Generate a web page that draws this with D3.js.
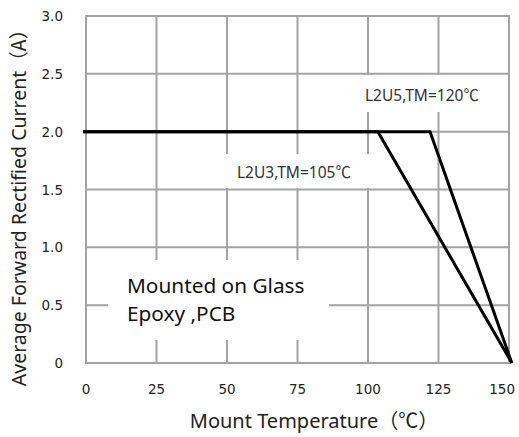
<!DOCTYPE html>
<html>
<head>
<meta charset="utf-8">
<script src="https://cdn.jsdelivr.net/npm/d3@7"></script>
<style>
  body { margin: 0; background: #fff; }
  svg { display: block; }
</style>
</head>
<body>
<div id="container"></div>
<script>
// values
const tempTicks = [0, 25, 50, 75, 100, 125, 150]
const currentTicks = [0, 0.5, 1.0, 1.5, 2.0, 2.5, 3.0]
const l2u3Temp = [-1, 103.5, 151]
const l2u3Current = [2.0, 2.0, 0]
const l2u5Temp = [-1, 122, 151]
const l2u5Current = [2.0, 2.0, 0]

const width = 519
const height = 437
const margin = {top: 16, right: 10, bottom: 74, left: 86}

const svg = d3.select("#container").append("svg")
    .attr("width", width)
    .attr("height", height)

const x = d3.scaleLinear()
    .domain([0, 150])
    .range([margin.left, width - margin.right])

const y = d3.scaleLinear()
    .domain([0, 3])
    .range([height - margin.bottom, margin.top])

const gridColor = "#a3a3a3"
const cjk = "Noto Sans CJK SC"

// grid
svg.append("g")
    .selectAll("line")
    .data(tempTicks)
    .join("line")
    .attr("x1", d => x(d)).attr("x2", d => x(d))
    .attr("y1", y(0)).attr("y2", y(3))
    .attr("stroke", gridColor)
    .attr("stroke-width", 2)

svg.append("g")
    .selectAll("line")
    .data(currentTicks)
    .join("line")
    .attr("x1", x(0) - 1).attr("x2", x(150) + 1)
    .attr("y1", d => y(d)).attr("y2", d => y(d))
    .attr("stroke", gridColor)
    .attr("stroke-width", 2)

// white label boxes cover parts of the grid, like in the original
const boxes = [
  {x0: 108, y0: 260, x1: 329, y1: 340},
  {x0: 200, y0: 154, x1: 372, y1: 188},
  {x0: 360, y0: 75, x1: 497, y1: 112}
]
svg.append("g")
    .selectAll("rect")
    .data(boxes)
    .join("rect")
    .attr("x", d => d.x0).attr("y", d => d.y0)
    .attr("width", d => d.x1 - d.x0).attr("height", d => d.y1 - d.y0)
    .attr("fill", "#fff")

// curves
const line = d3.line()
    .x(d => x(d[0]))
    .y(d => y(d[1]))

const series = [
  d3.zip(l2u3Temp, l2u3Current),
  d3.zip(l2u5Temp, l2u5Current)
]

svg.append("g")
    .selectAll("path")
    .data(series)
    .join("path")
    .attr("d", line)
    .attr("fill", "none")
    .attr("stroke", "#000")
    .attr("stroke-width", 3)

// tick labels
svg.append("g")
    .selectAll("text")
    .data(currentTicks)
    .join("text")
    .attr("x", 63)
    .attr("y", d => y(d) + 5)
    .attr("text-anchor", "end")
    .attr("font-family", "DejaVu Sans")
    .attr("font-size", 13.5)
    .attr("fill", "#222")
    .text(d => d === 0 ? "0" : d.toFixed(1))

svg.append("g")
    .selectAll("text")
    .data(tempTicks)
    .join("text")
    .attr("x", (d, i) => i === tempTicks.length - 1 ? width - 4 : x(d))
    .attr("y", 394)
    .attr("text-anchor", (d, i) => i === tempTicks.length - 1 ? "end" : "middle")
    .attr("font-family", "DejaVu Sans")
    .attr("font-size", 13.5)
    .attr("fill", "#222")
    .text(d => d)

// axis titles
const xTitle = svg.append("text")
    .attr("x", 314)
    .attr("y", 428)
    .attr("text-anchor", "middle")
    .attr("font-family", "Noto Sans")
    .attr("font-size", 20)
    .attr("fill", "#222")
xTitle.append("tspan").text("Mount Temperature")
xTitle.append("tspan").attr("font-family", cjk).text("（℃）")

const yTitle = svg.append("text")
    .attr("transform", `translate(26, 203) rotate(-90)`)
    .attr("text-anchor", "middle")
    .attr("font-family", "Noto Sans")
    .attr("font-size", 19.5)
    .attr("fill", "#222")
yTitle.append("tspan").text("Average Forward Rectified Current")
yTitle.append("tspan").attr("font-family", cjk).text("（A）")

// annotations
const ann = [
  {label: "L2U5,TM=120", x: 365, y: 101},
  {label: "L2U3,TM=105", x: 237, y: 178}
]
ann.forEach(a => {
  const t = svg.append("text")
      .attr("x", a.x)
      .attr("y", a.y)
      .attr("font-family", "Noto Sans")
      .attr("font-size", 15.5)
      .attr("fill", "#333")
  t.append("tspan").text(a.label)
  t.append("tspan").attr("font-family", cjk).text("℃")
})

const note = svg.append("text")
    .attr("font-family", "Noto Sans")
    .attr("font-size", 20.8)
    .attr("fill", "#111")
note.append("tspan").attr("x", 127).attr("y", 293).text("Mounted on Glass")
note.append("tspan").attr("x", 127).attr("y", 321).text("Epoxy ,PCB")
</script>
</body>
</html>
